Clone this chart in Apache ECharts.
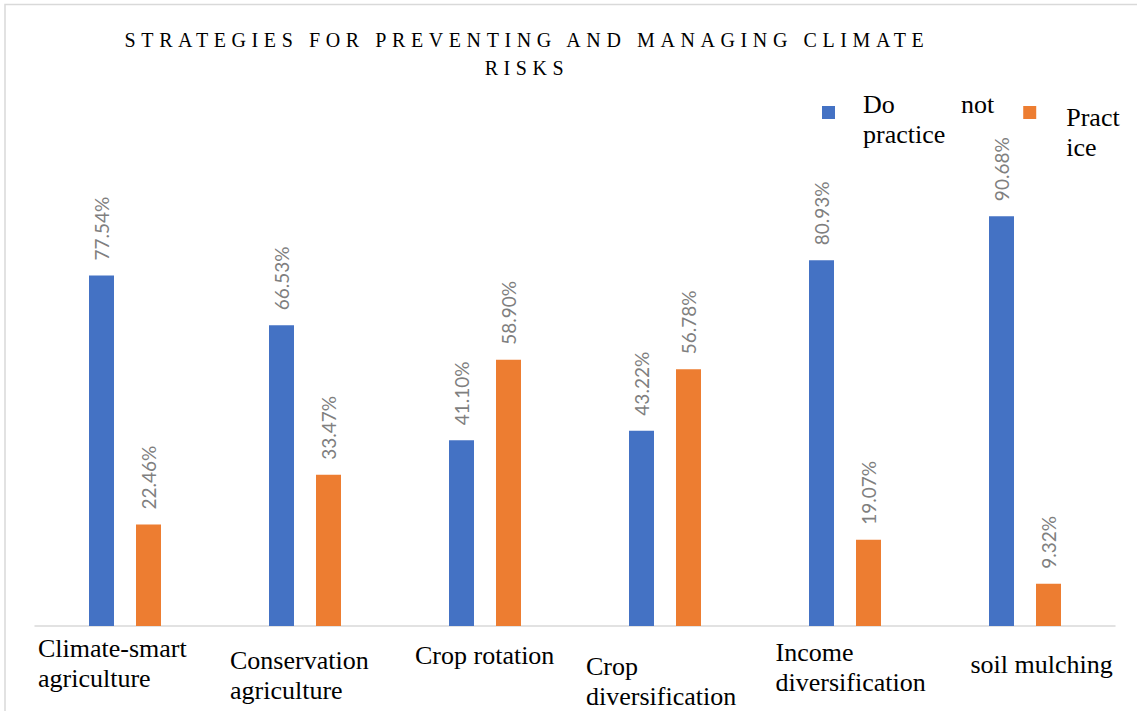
<!DOCTYPE html>
<html>
<head>
<meta charset="utf-8">
<script src="https://cdn.jsdelivr.net/npm/echarts@6/dist/echarts.min.js"></script>
<style>
  html, body { margin: 0; padding: 0; background: #fff; }
  #chart { width: 1137px; height: 711px; }
  #chart text[style*="20px"] { letter-spacing: 5.6px; }
</style>
</head>
<body>
<div id="chart"></div>
<script>
// ---- data ----
const titleText = 'STRATEGIES FOR PREVENTING AND MANAGING CLIMATE\nRISKS';
const categories = ['Climate-smart\nagriculture', 'Conservation\nagriculture', 'Crop rotation', 'Crop\ndiversification', 'Income\ndiversification', 'soil mulching'];
const seriesNames = ['Do not practice', 'Practice'];
const doNotPractice = [77.54, 66.53, 41.10, 43.22, 80.93, 90.68];
const practice = [22.46, 33.47, 58.90, 56.78, 19.07, 9.32];

// ---- layout / style (not data) ----
const catLabelPadTop = [7.5, 19, 14, 25, 11, 23.5];
const catLabelBoxWidth = [174, 150, 140, 158, 139, 109];
const serif = "'Liberation Serif', 'Times New Roman', serif";

const rich = {};
catLabelBoxWidth.forEach((w, i) => {
  rich['c' + i] = { width: w, align: 'left', fontFamily: serif, fontSize: 26, lineHeight: 30, color: '#000' };
});

const chart = echarts.init(document.getElementById('chart'), null, { renderer: 'svg' });
const option = {
  animation: false,
  backgroundColor: '#fff',
  title: {
    text: titleText,
    left: 527,
    top: 25.5,
    padding: 0,
    textAlign: 'center',
    textStyle: { fontFamily: serif, fontSize: 20, fontWeight: 'normal', color: '#000', lineHeight: 28 }
  },
  legend: {
    left: 822,
    top: 63,
    padding: 0,
    itemWidth: 13,
    itemHeight: 13,
    itemGap: 29,
    icon: 'rect',
    selectedMode: false,
    data: [
      { name: seriesNames[0], textStyle: { padding: [14, 0, 0, 23] } },
      { name: seriesNames[1], textStyle: { padding: [39, 0, 0, 25] } }
    ],
    formatter: function (name) {
      if (name === seriesNames[0]) return '{a|Do}{b|not}\n{b|practice}';
      return '{b|Pract}\n{b|ice}';
    },
    textStyle: {
      fontFamily: serif, fontSize: 26, lineHeight: 30, color: '#000',
      rich: {
        a: { width: 98, align: 'left', fontFamily: serif, fontSize: 26, lineHeight: 30, color: '#000' },
        b: { align: 'left', fontFamily: serif, fontSize: 26, lineHeight: 30, color: '#000' }
      }
    }
  },
  graphic: [{
    type: 'rect', silent: true, z: -1,
    shape: { x: 5, y: 4.5, width: 1200, height: 800 },
    style: { fill: 'none', stroke: '#d9d9d9', lineWidth: 1.5 }
  }],
  grid: { left: 35, right: 22, top: 174, bottom: 85 },
  xAxis: {
    type: 'category',
    data: categories.map((c, i) => ({ value: c, textStyle: { padding: [catLabelPadTop[i], 0, 0, 0] } })),
    axisLine: { show: true, lineStyle: { color: '#d9d9d9', width: 1.5 } },
    axisTick: { show: false },
    axisLabel: {
      interval: 0,
      margin: 0,
      fontFamily: serif,
      fontSize: 26,
      lineHeight: 30,
      color: '#000',
      formatter: function (value, idx) {
        return value.split('\n').map(l => '{c' + idx + '|' + l + '}').join('\n');
      },
      rich: rich
    }
  },
  yAxis: { type: 'value', min: 0, max: 100, show: false, splitLine: { show: false } },
  series: [
    {
      name: seriesNames[0], type: 'bar', data: doNotPractice,
      barWidth: 25, barGap: '88%',
      itemStyle: { color: '#4472c4' },
      label: {
        show: true, position: 'top', rotate: 90, align: 'left', verticalAlign: 'middle', distance: 15,
        fontFamily: 'Lato, Carlito, sans-serif', fontSize: 19, color: '#7f7f7f',
        formatter: p => p.value.toFixed(2) + '%'
      }
    },
    {
      name: seriesNames[1], type: 'bar', data: practice,
      barWidth: 25, barGap: '88%',
      itemStyle: { color: '#ed7d31' },
      label: {
        show: true, position: 'top', rotate: 90, align: 'left', verticalAlign: 'middle', distance: 15,
        fontFamily: 'Lato, Carlito, sans-serif', fontSize: 19, color: '#7f7f7f',
        formatter: p => p.value.toFixed(2) + '%'
      }
    }
  ]
};
chart.setOption(option);
</script>
</body>
</html>
